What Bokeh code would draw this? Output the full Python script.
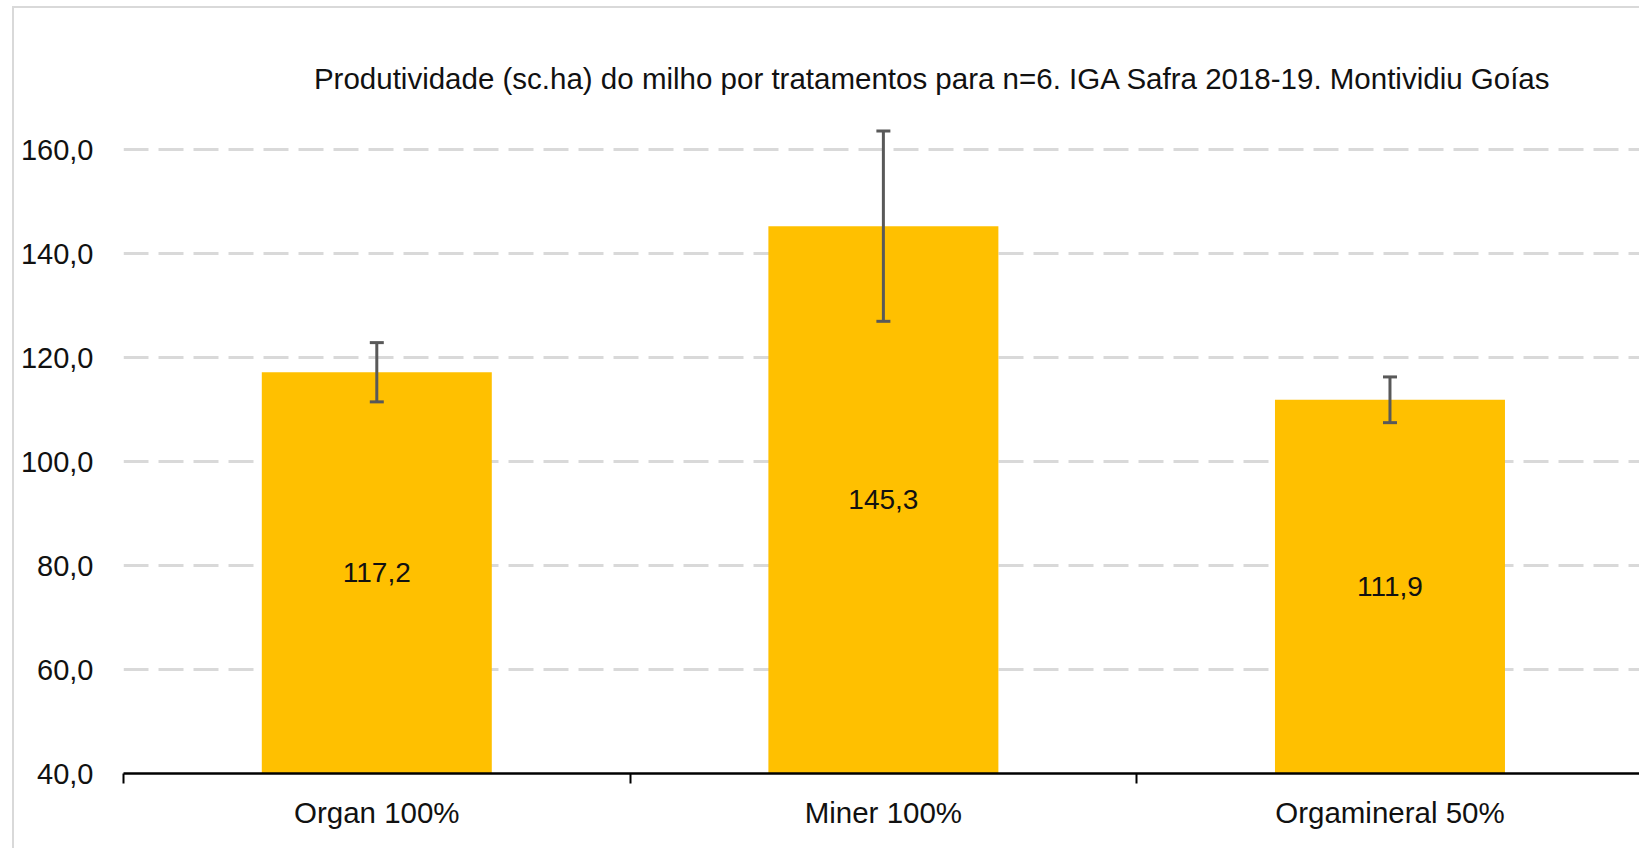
import numpy as np
from bokeh.plotting import figure
from bokeh.models import Range1d, FixedTicker, Whisker, TeeHead, ColumnDataSource, Label
from bokeh.embed import file_html
from bokeh.resources import INLINE
from bokeh.core.properties import value

# ---- data ----
categories = ["Organ 100%", "Miner 100%", "Orgamineral 50%"]
means = [117.2, 145.3, 111.9]
errors = [5.7, 18.3, 4.4]
y_ticks = [40, 60, 80, 100, 120, 140, 160]
y_tick_labels = ["40,0", "60,0", "80,0", "100,0", "120,0", "140,0", "160,0"]
title_text = "Produtividade (sc.ha) do milho por tratamentos para n=6. IGA Safra 2018-19. Montividiu Goías"

Y_BASE = 40
FONT = "Liberation Sans"
TXT = "#111111"

x = np.arange(len(categories)) + 0.5
m = np.array(means)
e = np.array(errors)

p = figure(width=1627, height=842,
           x_range=Range1d(0, 2.9965), y_range=Range1d(Y_BASE, 185.26),
           output_backend="svg", toolbar_location=None,
           min_border_left=109, min_border_right=0,
           min_border_top=10, min_border_bottom=77)
p.styles = {"border-left": "2px solid #d9d9d9", "border-top": "2px solid #d9d9d9",
            "margin-left": "12px", "margin-top": "6px"}
p.outline_line_color = None
p.background_fill_color = "white"
p.border_fill_color = "white"

# bars
src = ColumnDataSource(dict(x=x, top=m, upper=m + e, lower=m - e,
                            ly=(m + Y_BASE) / 2,
                            lab=[f"{v:.1f}".replace(".", ",") for v in means]))
p.vbar(x="x", top="top", bottom=Y_BASE, width=0.454, source=src,
       fill_color="#FFC000", line_color=None)

# error bars
w = Whisker(base="x", upper="upper", lower="lower", source=src,
            line_color="#595959", line_width=3, level="overlay",
            upper_head=TeeHead(size=14, line_color="#595959", line_width=3),
            lower_head=TeeHead(size=14, line_color="#595959", line_width=3))
p.add_layout(w)

# value labels
p.text(x="x", y="ly", text="lab", source=src, text_align="center",
       text_baseline="middle", text_font=value(FONT), text_font_size="28px",
       text_color=TXT)

# title
p.add_layout(Label(x=1.597, y=173.7, text=title_text, text_align="center",
                   text_baseline="middle", text_font=FONT,
                   text_font_size="29.5px", text_color=TXT))

# y axis
p.yaxis.ticker = FixedTicker(ticks=y_ticks)
p.yaxis.major_label_overrides = {t: l for t, l in zip(y_ticks, y_tick_labels)}
p.yaxis.axis_line_color = None
p.yaxis.major_tick_line_color = None
p.yaxis.minor_tick_line_color = None
p.yaxis.major_label_standoff = 24
p.yaxis.major_label_text_font = FONT
p.yaxis.major_label_text_font_size = "29px"
p.yaxis.major_label_text_color = TXT

# grid
p.xgrid.grid_line_color = None
p.ygrid.grid_line_color = "#d9d9d9"
p.ygrid.grid_line_width = 3
p.ygrid.grid_line_dash = "25 10"

# x axis
p.xaxis.ticker = FixedTicker(ticks=[float(v) for v in x], minor_ticks=[0, 1, 2, 3])
p.xaxis.major_label_overrides = {float(v): c for v, c in zip(x, categories)}
p.xaxis.axis_line_color = "black"
p.xaxis.axis_line_width = 2.5
p.xaxis.major_tick_line_color = None
p.xaxis.major_tick_out = 0
p.xaxis.major_tick_in = 0
p.xaxis.minor_tick_line_color = "black"
p.xaxis.minor_tick_line_width = 2
p.xaxis.minor_tick_out = 10
p.xaxis.minor_tick_in = 0
p.xaxis.major_label_standoff = 12
p.xaxis.major_label_text_font = FONT
p.xaxis.major_label_text_font_size = "29.5px"
p.xaxis.major_label_text_color = TXT

open("out.html", "w").write(file_html(p, INLINE))
